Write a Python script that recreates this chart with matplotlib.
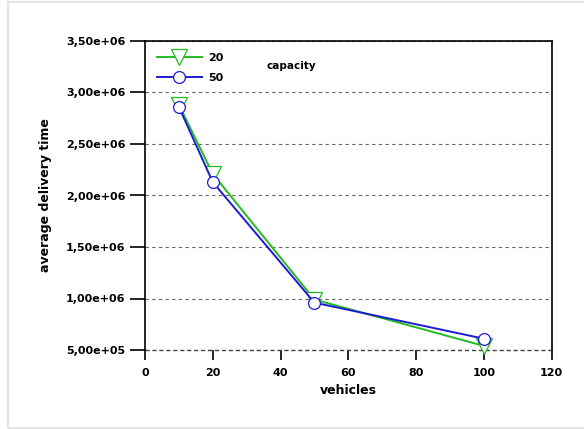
import matplotlib
matplotlib.use("Agg")
import matplotlib.pyplot as plt
from matplotlib.ticker import FuncFormatter
from matplotlib.patches import Rectangle

# vehicles vs average delivery time, one series per capacity
vehicles = [10, 20, 50, 100]
cap20 = [2.88e6, 2.21e6, 0.99e6, 0.54e6]
cap50 = [2.86e6, 2.13e6, 0.96e6, 0.61e6]
labels = ["20", "50"]

GREEN = "#22bb22"
BLUE = "#1c1cd0"

plt.rcParams['font.family'] = 'DejaVu Sans'
plt.rcParams['font.weight'] = 'bold'

fig = plt.figure(figsize=(5.84, 4.29), dpi=100)
# light frame round the whole picture (right side runs off the image)
fig.patches.append(Rectangle((8/584, 1/429), 1.2, 426/429, transform=fig.transFigure,
                             fill=False, edgecolor="#e4e4e4", lw=1.5))
ax = fig.add_axes([145/584, 1-350/429, 406.5/584, 309/429])

ax.plot(vehicles, cap20, color=GREEN, lw=1.4, marker="v", ms=11,
        mfc="white", mec=GREEN, mew=0.9, label=labels[0], zorder=3, clip_on=False)
ax.plot(vehicles, cap50, color=BLUE, lw=1.4, marker="o", ms=8.5,
        mfc="white", mec=BLUE, mew=0.9, label=labels[1], zorder=4, clip_on=False)

ax.set_xlim(0, 120)
ax.set_ylim(5e5, 3.5e6)
ax.set_xticks([0, 20, 40, 60, 80, 100, 120])
ax.set_yticks([5e5, 1e6, 1.5e6, 2e6, 2.5e6, 3e6, 3.5e6])
ax.yaxis.set_major_formatter(FuncFormatter(lambda v, p: ("%.2e" % v).replace(".", ",")))

ax.grid(axis="y", ls=(0, (3, 3)), color="#666666", lw=0.8)
ax.set_axisbelow(True)
ax.spines["bottom"].set_visible(False)
ax.spines["top"].set_linewidth(1.2)
ax.spines["left"].set_linewidth(1.2)
ax.spines["right"].set_linewidth(1.2)
ax.axhline(5e5, color="#444444", ls=(0, (3, 2)), lw=1.0, clip_on=False)

ax.tick_params(axis="y", direction="out", length=11, width=1.2, labelsize=8, pad=3)
ax.tick_params(axis="x", direction="out", length=7, width=1.2, labelsize=8, pad=6)
for t in ax.get_xticklabels() + ax.get_yticklabels():
    t.set_fontweight("bold")

ax.set_xlabel("vehicles", fontsize=9, fontweight="bold", labelpad=4)
ax.set_ylabel("average delivery time", fontsize=9, fontweight="bold", labelpad=10)

leg = ax.legend(loc="upper left", frameon=False, fontsize=8, handlelength=4.0,
                borderaxespad=0.7, labelspacing=0.85, handletextpad=0.6)
for t in leg.get_texts():
    t.set_fontweight("bold")
ax.text(0.300, 0.918, "capacity", transform=ax.transAxes, fontsize=7.5,
        fontweight="bold", va="center", ha="left")

fig.savefig("out.png", dpi=100, facecolor="white")
